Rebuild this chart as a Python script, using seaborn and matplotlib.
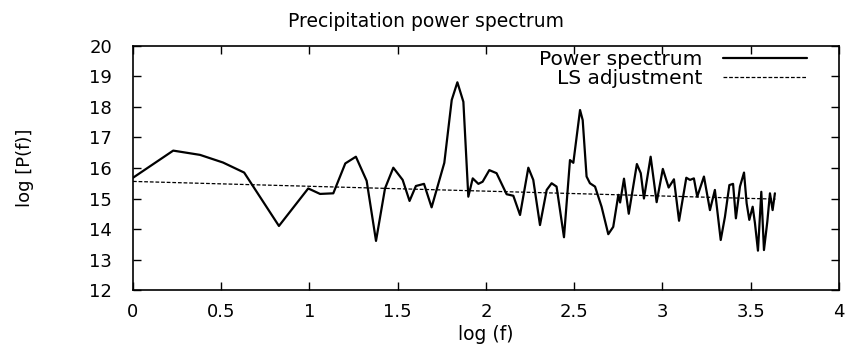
import numpy as np
import pandas as pd
import matplotlib
matplotlib.use('Agg')
import matplotlib.pyplot as plt
import seaborn as sns

# log(f) and log[P(f)]
log_f = [0.0, 0.228, 0.38, 0.51, 0.63, 0.827, 0.993, 1.06, 1.135, 1.203,
         1.263, 1.324, 1.377, 1.428, 1.475, 1.528, 1.567, 1.603, 1.649,
         1.692, 1.764, 1.806, 1.838, 1.872, 1.90, 1.925, 1.957, 1.981,
         2.019, 2.06, 2.117, 2.155, 2.193, 2.24, 2.268, 2.306, 2.344,
         2.372, 2.40, 2.442, 2.476, 2.495, 2.533, 2.548, 2.57, 2.589,
         2.618, 2.655, 2.693, 2.721, 2.75, 2.76, 2.782, 2.809, 2.855,
         2.877, 2.895, 2.933, 2.967, 3.002, 3.035, 3.065, 3.094, 3.135,
         3.156, 3.178, 3.197, 3.235, 3.269, 3.297, 3.33, 3.354, 3.379,
         3.40, 3.416, 3.439, 3.462, 3.477, 3.492, 3.511, 3.524, 3.541,
         3.56, 3.575, 3.594, 3.609, 3.624, 3.637]
log_p = [15.68, 16.57, 16.43, 16.18, 15.85, 14.10, 15.33, 15.15, 15.17,
         16.15, 16.37, 15.58, 13.61, 15.33, 16.01, 15.61, 14.92, 15.41,
         15.48, 14.71, 16.17, 18.23, 18.81, 18.17, 15.06, 15.66, 15.48,
         15.55, 15.93, 15.83, 15.14, 15.09, 14.46, 16.01, 15.61, 14.13,
         15.28, 15.50, 15.39, 13.73, 16.26, 16.17, 17.90, 17.57, 15.72,
         15.50, 15.39, 14.73, 13.83, 14.07, 15.12, 14.87, 15.65, 14.50,
         16.13, 15.83, 15.0, 16.37, 14.88, 15.97, 15.36, 15.63, 14.27,
         15.68, 15.61, 15.66, 15.06, 15.72, 14.62, 15.28, 13.64, 14.40,
         15.44, 15.48, 14.35, 15.39, 15.85, 14.84, 14.30, 14.73, 14.19,
         13.29, 15.22, 13.31, 14.24, 15.17, 14.62, 15.17]

# least-squares line end points
ls_f = [0.0, 3.64]
ls_p = [15.56, 14.98]

spec = pd.DataFrame({'f': log_f, 'p': log_p})
ls = pd.DataFrame({'f': ls_f, 'p': ls_p})

sns.set_theme(style='ticks')
plt.rcParams['font.family'] = ['DejaVu Sans']
plt.rcParams['text.color'] = 'black'
plt.rcParams['axes.labelcolor'] = 'black'
plt.rcParams['xtick.direction'] = 'in'
plt.rcParams['ytick.direction'] = 'in'

fig = plt.figure(figsize=(8.54, 3.5), dpi=100)
ax = fig.add_axes([0.1557, 0.1714, 0.8267, 0.6972])

sns.lineplot(data=spec, x='f', y='p', ax=ax, color='black', lw=1.6,
             sort=False, estimator=None, label='Power spectrum')
sns.lineplot(data=ls, x='f', y='p', ax=ax, color='black', lw=0.9,
             dashes=False, linestyle=(0, (3, 1.5)), label='LS adjustment')

ax.set_xlim(0, 4)
ax.set_ylim(12, 20)
ax.set_xticks(np.arange(0, 4.01, 0.5))
ax.set_xticklabels(['0', '0.5', '1', '1.5', '2', '2.5', '3', '3.5', '4'])
ax.set_yticks(range(12, 21))
ax.tick_params(which='both', top=True, right=True, length=5.5, width=1,
               labelsize=13, colors='black')
ax.tick_params(axis='x', pad=9)
ax.tick_params(axis='y', pad=15)
for s in ax.spines.values():
    s.set_visible(True)
    s.set_linewidth(1.2)
    s.set_color('black')

ax.set_title('Precipitation power spectrum', fontsize=13.5, x=0.415, pad=14)
ax.set_xlabel('log (f)', fontsize=13.5, labelpad=3)
ax.set_ylabel('log [P(f)]', fontsize=13, labelpad=40)

ax.legend(loc='upper right', bbox_to_anchor=(0.955, 0.985), frameon=False,
          markerfirst=False, fontsize=14.5, handlelength=4.2, handletextpad=1.0,
          labelspacing=0.0, borderaxespad=0, borderpad=0)

fig.savefig('out.png', dpi=100)
